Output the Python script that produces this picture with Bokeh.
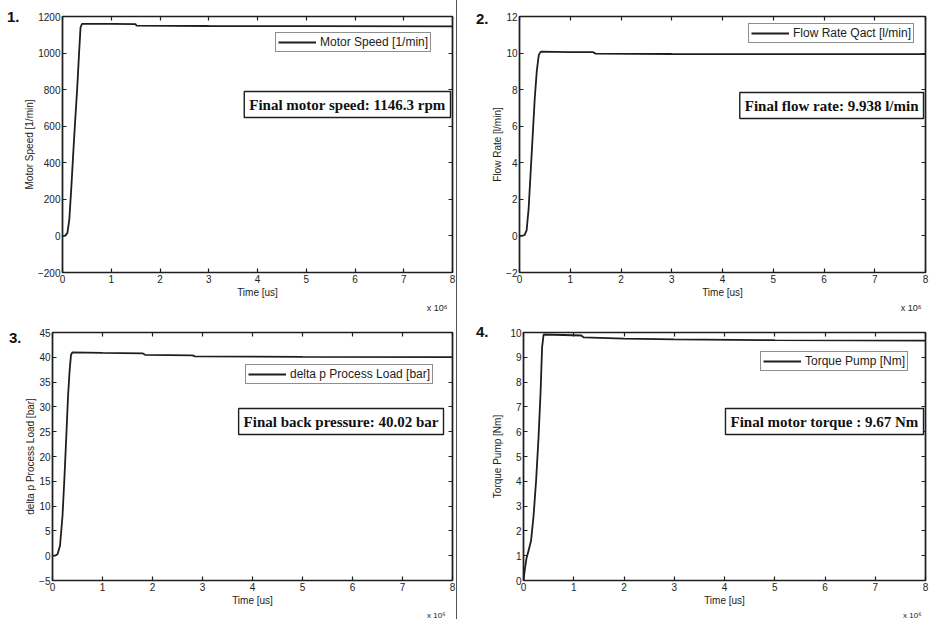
from bokeh.plotting import figure
from bokeh.layouts import column, row
from bokeh.models import (Range1d, FixedTicker, LinearAxis, Label, Legend, LegendItem,
                          Title, Div, CustomLabelingPolicy)
from bokeh.embed import file_html
from bokeh.resources import INLINE

# ---- data (time in units of 10^6 us) ----
t_speed = [0, 0.05, 0.10, 0.14, 0.18, 0.22, 0.26, 0.30, 0.34, 0.37, 0.40, 1.0, 1.5, 1.52, 3.0, 5.0, 8.0]
motor_speed = [0, 0, 15, 90, 260, 450, 630, 800, 1000, 1140, 1160, 1160, 1158, 1150, 1148, 1147, 1146.3]

t_flow = [0, 0.05, 0.10, 0.14, 0.18, 0.22, 0.26, 0.30, 0.34, 0.38, 0.42, 1.0, 1.45, 1.5, 3.0, 5.0, 8.0]
flow_rate = [0, 0, 0.05, 0.3, 1.5, 3.5, 5.5, 7.5, 9.0, 9.9, 10.08, 10.05, 10.05, 9.97, 9.95, 9.94, 9.938]

t_press = [0, 0.05, 0.10, 0.15, 0.20, 0.24, 0.28, 0.31, 0.34, 0.37, 0.40, 1.0, 1.8, 1.85, 2.8, 2.85, 5.0, 8.0]
delta_p = [0, 0, 0.3, 2, 8, 16, 25, 32, 37, 40.5, 41, 40.9, 40.8, 40.5, 40.4, 40.2, 40.1, 40.02]

t_torque = [0, 0.03, 0.06, 0.10, 0.15, 0.20, 0.25, 0.30, 0.34, 0.37, 0.40, 0.8, 1.15, 1.2, 2.0, 3.0, 5.0, 8.0]
torque = [0, 0.5, 0.9, 1.2, 1.6, 2.6, 4.0, 5.8, 7.6, 9.4, 9.92, 9.9, 9.88, 9.8, 9.75, 9.72, 9.69, 9.67]

x_ticks = [0, 1, 2, 3, 4, 5, 6, 7, 8]
y_ticks_speed = [-200, 0, 200, 400, 600, 800, 1000, 1200]
y_ticks_flow = [-2, 0, 2, 4, 6, 8, 10, 12]
y_ticks_press = [-5, 0, 5, 10, 15, 20, 25, 30, 35, 40, 45]
y_ticks_torque = [0, 1, 2, 3, 4, 5, 6, 7, 8, 9, 10]

LINE = "#1e1e1e"
SANS = "Liberation Sans"
SERIF = "Liberation Serif"

HIDE = "const all = Array.from(indices); for (const i of all) indices.unset(i); return indices;"


def style_axis(ax, labels=True):
    ax.axis_line_color = LINE
    ax.axis_line_width = 1.2
    ax.major_tick_in = 4
    ax.major_tick_out = 0
    ax.major_tick_line_color = LINE
    ax.major_tick_line_width = 1.2
    ax.minor_tick_line_color = None
    if labels:
        ax.major_label_text_font = SANS
        ax.major_label_text_font_size = "10px"
        ax.major_label_text_color = "#222"
        ax.major_label_standoff = 2
        ax.axis_label_text_font = SANS
        ax.axis_label_text_font_size = "10px"
        ax.axis_label_text_font_style = "normal"
        ax.axis_label_text_color = "#222"
    else:
        ax.major_label_text_font_size = "1px"
        ax.major_label_standoff = 0
        ax.major_label_policy = CustomLabelingPolicy(code=HIDE)


def panel(t, v, y_lo, y_hi, y_ticks, ylabel, legend_text, note,
          width, height, bl, br, bt, bb, ylab_s,
          leg_x, leg_t, note_r, note_t, mul_off, mul_size, sep=False):
    p = figure(width=width, height=height, output_backend="svg", title=None,
               toolbar_location=None, x_range=Range1d(0, 8),
               y_range=Range1d(y_lo, y_hi),
               min_border_left=bl, min_border_right=br,
               min_border_top=bt, min_border_bottom=bb)
    p.xgrid.visible = False
    p.ygrid.visible = False
    p.outline_line_color = LINE
    p.outline_line_width = 1.6
    p.background_fill_color = "white"
    p.border_fill_color = "white"
    if sep:
        p.styles = {"border-right": "1px solid #555"}

    p.xaxis.ticker = FixedTicker(ticks=x_ticks)
    p.yaxis.ticker = FixedTicker(ticks=y_ticks)
    p.xaxis.axis_label = "Time [us]"
    p.yaxis.axis_label = ylabel
    style_axis(p.xaxis[0])
    style_axis(p.yaxis[0])
    p.xaxis.axis_label_standoff = 1
    p.yaxis.axis_label_standoff = ylab_s

    top = LinearAxis(ticker=FixedTicker(ticks=x_ticks))
    style_axis(top, labels=False)
    p.add_layout(top, "above")
    right = LinearAxis(ticker=FixedTicker(ticks=y_ticks))
    style_axis(right, labels=False)
    p.add_layout(right, "right")

    mul = Title(text="x 10\u2076", align="right", offset=mul_off, standoff=0,
                text_font=SANS, text_font_size=mul_size, text_font_style="normal",
                text_color="#222")
    p.add_layout(mul, "below")

    r = p.line(t, v, line_color=LINE, line_width=1.8)

    fw = width - bl - br
    fh = height - bt - bb
    leg_h = 17

    leg = Legend(items=[LegendItem(label=legend_text, renderers=[r])],
                 location=(leg_x, fh - leg_t - leg_h),
                 border_line_color=LINE, border_line_width=1.4,
                 label_text_font=SANS, label_text_font_size="12px",
                 label_text_color="#222",
                 glyph_width=38, glyph_height=12, label_height=12,
                 label_standoff=4, padding=2, margin=0, spacing=0)
    p.add_layout(leg)

    p.add_layout(Label(x=fw - note_r, y=fh - note_t, x_units="screen", y_units="screen",
                       text=note, text_align="right", text_baseline="top",
                       text_font=SERIF, text_font_style="bold", text_font_size="15px",
                       text_color="#111", border_line_color=LINE, border_line_width=1.4,
                       background_fill_color="white", padding=5))
    return p


def num_div(txt, w, ml, mt):
    return Div(text=f'<div style="font-family: Liberation Sans, Arial, sans-serif; '
                    f'font-weight: bold; font-size: 15px; color: #111; line-height: 16px; '
                    f'margin-left: {ml}px; margin-top: {mt}px;">{txt}</div>',
               width=w, height=40, margin=0)


# row 1: height 312; row 2: height 307
p1 = panel(t_speed, motor_speed, -200, 1200, y_ticks_speed, "Motor Speed [1/min]",
           "Motor Speed [1/min]", "Final motor speed: 1146.3 rpm",
           437, 312, 42, 5, 16, 39, 0,
           leg_x=213, leg_t=20, note_r=2, note_t=76, mul_off=5, mul_size="9px", sep=True)
p2 = panel(t_flow, flow_rate, -2, 12, y_ticks_flow, "Flow Rate [l/min]",
           "Flow Rate Qact [l/min]", "Final flow rate: 9.938 l/min",
           440, 312, 28, 3, 16, 39, 0,
           leg_x=229, leg_t=11, note_r=5, note_t=77, mul_off=4, mul_size="9px")
p3 = panel(t_press, delta_p, -5, 45, y_ticks_press, "delta p Process Load [bar]",
           "delta p Process Load [bar]", "Final back pressure: 40.02 bar",
           437, 307, 32, 5, 20, 39, 0,
           leg_x=193, leg_t=35, note_r=9, note_t=76, mul_off=7, mul_size="8px", sep=True)
p4 = panel(t_torque, torque, 0, 10, y_ticks_torque, "Torque Pump [Nm]",
           "Torque Pump [Nm]", "Final motor torque : 9.67 Nm",
           440, 307, 32, 3, 20, 39, 4,
           leg_x=237, leg_t=22, note_r=5, note_t=76, mul_off=4, mul_size="8px")

d1 = num_div("1.", 20, 7, 9)
d2 = num_div("2.", 32, 19, 11)
d3 = num_div("3.", 20, 9, 18)
d4 = num_div("4.", 32, 19, 12)

layout = column(row(d1, p1, d2, p2), row(d3, p3, d4, p4))

open("out.html", "w").write(file_html(layout, INLINE))
